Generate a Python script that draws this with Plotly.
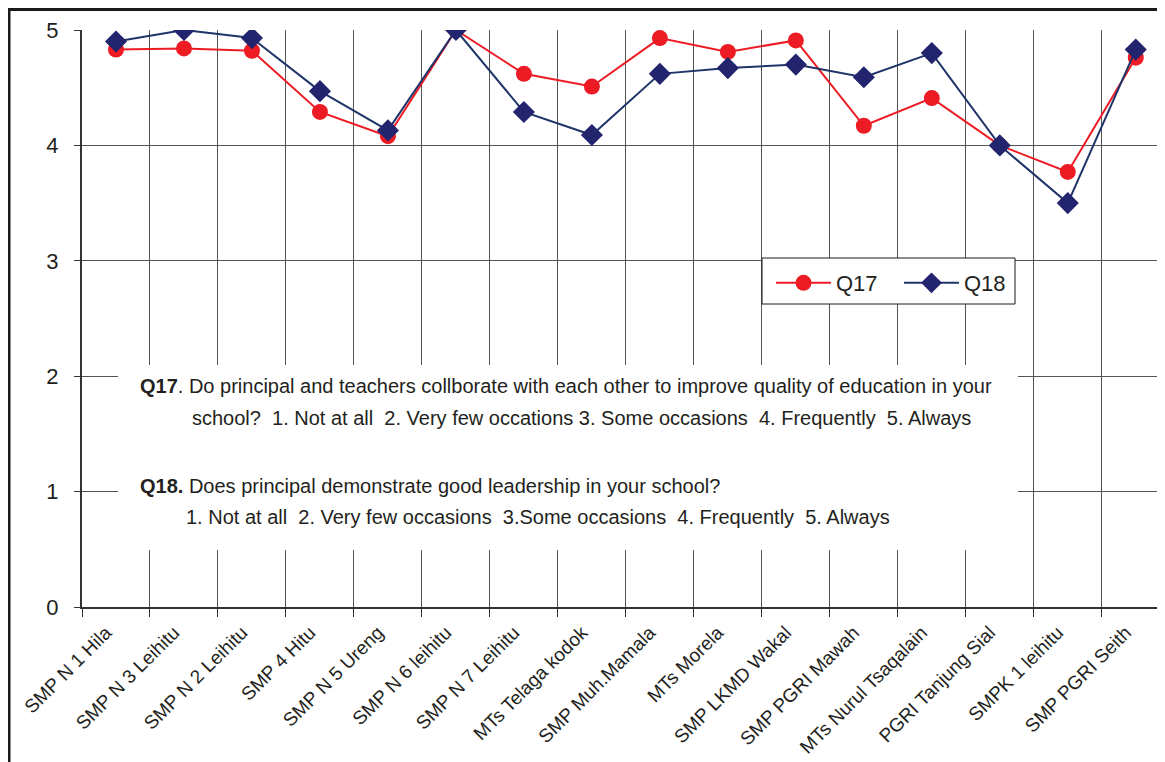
import plotly.graph_objects as go

schools = ["SMP N 1 Hila", "SMP N 3 Leihitu", "SMP N 2 Leihitu", "SMP 4 Hitu", "SMP N 5 Ureng",
           "SMP N 6 leihitu", "SMP N 7 Leihitu", "MTs Telaga kodok", "SMP Muh.Mamala", "MTs Morela",
           "SMP LKMD Wakal", "SMP PGRI Mawah", "MTs Nurul Tsaqalain", "PGRI Tanjung Sial",
           "SMPK 1 leihitu", "SMP PGRI Seith"]
q17 = [4.83, 4.84, 4.82, 4.29, 4.08, 5.0, 4.62, 4.51, 4.93, 4.81, 4.91, 4.17, 4.41, 4.0, 3.77, 4.76]
q18 = [4.90, 5.0, 4.93, 4.47, 4.13, 5.0, 4.29, 4.09, 4.62, 4.67, 4.70, 4.59, 4.80, 4.0, 3.50, 4.83]
y_ticks = [0, 1, 2, 3, 4, 5]

OFF = 8  # page body margin
W, H = 1165 - OFF, 762 - OFF
L, R, T = 82 - OFF, 0, 30 - OFF
B = H - (607 - OFF)
pw, ph = W - L - R, H - T - B

def px(x):  # screenshot x -> paper
    return (x - OFF - L) / pw

def py(y):  # screenshot y -> paper
    return (H - B - (y - OFF)) / ph

RED = "#ED1C24"
NAVY = "#1F3468"
NAVY_M = "#22246E"

fig = go.Figure()
fig.add_trace(go.Scatter(x=schools, y=q17, name="Q17", mode="lines+markers",
                         line=dict(color=RED, width=2),
                         marker=dict(symbol="circle", size=16, color=RED)))
fig.add_trace(go.Scatter(x=schools, y=q18, name="Q18", mode="lines+markers",
                         line=dict(color=NAVY, width=2),
                         marker=dict(symbol="diamond", size=17, color=NAVY_M)))

# outer frame
fig.add_shape(type="rect", xref="paper", yref="paper",
              x0=px(9), x1=px(1175), y0=py(775), y1=py(9.5),
              line=dict(color="#1a1a1a", width=3), fillcolor="rgba(0,0,0,0)", layer="above")
# white box behind the note text
fig.add_shape(type="rect", xref="paper", yref="paper",
              x0=px(118), x1=px(1018), y0=py(550), y1=py(365),
              line=dict(width=0), fillcolor="white", layer="above")
# legend box
fig.add_shape(type="rect", xref="paper", yref="paper",
              x0=px(762), x1=px(1015), y0=py(304), y1=py(258),
              line=dict(color="#1a1a1a", width=1), fillcolor="white", layer="above")

NF = "Liberation Sans, Arial, sans-serif"
NS = "\u00a0"
notes = [
    ("<b>Q17</b>. Do principal and teachers collborate with each other to improve quality of education in your", 138, 386),
    (f"school?{NS}{NS}1. Not at all{NS}{NS}2. Very few occations 3. Some occasions{NS}{NS}4. Frequently{NS}{NS}5. Always", 190, 418),
    ("<b>Q18.</b> Does principal demonstrate good leadership in your school?", 138, 486),
    (f"1. Not at all{NS}{NS}2. Very few occasions{NS}{NS}3.Some occasions{NS}{NS}4. Frequently{NS}{NS}5. Always", 184, 517),
]
for txt, x, y in notes:
    fig.add_annotation(text=txt, xref="paper", yref="paper", x=px(x), y=py(y),
                       xanchor="left", yanchor="middle", showarrow=False,
                       font=dict(family=NF, size=20, color="#231f20"))

fig.update_layout(
    width=W, height=H,
    margin=dict(l=L, r=R, t=T, b=B, autoexpand=False),
    paper_bgcolor="white", plot_bgcolor="white",
    font=dict(family="Liberation Sans, Arial, sans-serif", color="#231f20"),
    showlegend=True,
    legend=dict(orientation="h", x=px(771), y=py(262), xanchor="left", yanchor="top",
                bgcolor="rgba(0,0,0,0)", borderwidth=0,
                font=dict(family=NF, size=22, color="#231f20"),
                itemwidth=55, tracegroupgap=0, entrywidth=58),
    xaxis=dict(type="category", range=[-0.5, 15.43], tickson="boundaries", automargin=False,
               showgrid=True, gridcolor="#555555", gridwidth=1,
               showline=True, linecolor="#333333", linewidth=2,
               ticks="outside", ticklen=8, tickcolor="#333333",
               tickangle=-45, ticklabelshift=-10, ticklabelstandoff=5,
               tickfont=dict(size=19, family="Liberation Sans, Arial, sans-serif")),
    yaxis=dict(range=[0, 5], tickvals=y_ticks, showgrid=True, gridcolor="#555555", gridwidth=1,
               automargin=False,
               showline=True, linecolor="#333333", linewidth=2,
               ticks="outside", ticklen=6, tickcolor="#333333", ticklabelstandoff=11,
               tickfont=dict(size=22, family="Liberation Sans, Arial, sans-serif"),
               zeroline=False),
)

fig.write_html("out.html")
